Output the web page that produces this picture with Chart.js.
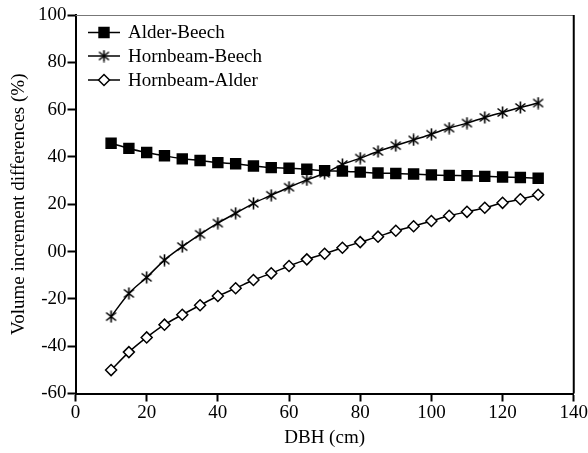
<!DOCTYPE html>
<html>
<head>
<meta charset="utf-8">
<script src="https://cdn.jsdelivr.net/npm/chart.js@4"></script>
<style>
  html, body { margin: 0; padding: 0; background: #fff; }
  #wrap { width: 588px; height: 453px; }
</style>
</head>
<body>
<div id="wrap"><canvas id="lineChart" width="588" height="453"></canvas></div>
<script>
// DBH classes (cm)
const DBH = [10, 15, 20, 25, 30, 35, 40, 45, 50, 55, 60, 65, 70, 75, 80, 85, 90, 95, 100, 105, 110, 115, 120, 125, 130]
// volume increment differences (%)
const ALDER_BEECH = [45.8, 43.6, 41.9, 40.5, 39.2, 38.5, 37.6, 37.1, 36.2, 35.5, 35.2, 34.8, 34.2, 34.0, 33.6, 33.2, 33.0, 32.8, 32.4, 32.2, 32.1, 31.8, 31.5, 31.3, 31.0]
const HORNBEAM_BEECH = [-27.5, -17.7, -10.9, -3.6, 2.1, 7.3, 12.0, 16.2, 20.4, 23.8, 27.2, 30.3, 33.1, 36.8, 39.5, 42.3, 44.8, 47.2, 49.6, 52.2, 54.3, 56.7, 58.8, 60.9, 62.8]
const HORNBEAM_ALDER = [-50.1, -42.5, -36.3, -30.9, -26.7, -22.7, -18.8, -15.5, -12.0, -9.2, -6.1, -3.3, -0.9, 1.6, 4.0, 6.3, 8.8, 10.7, 12.9, 15.1, 16.8, 18.5, 20.6, 22.1, 24.0]
const X_TICKS = [0, 20, 40, 60, 80, 100, 120, 140]
const Y_TICKS = [-60, -40, -20, 0, 20, 40, 60, 80, 100]

const FONT = "'Liberation Serif', 'Times New Roman', serif"

// six-armed asterisk marker (X plus vertical bar)
function makeAsterisk(){
    const c = document.createElement('canvas')
    c.width = 13
    c.height = 13
    const g = c.getContext('2d')
    g.strokeStyle = '#000'
    g.lineWidth = 1.6
    g.beginPath()
    g.moveTo(6.5, 0.5); g.lineTo(6.5, 12.5)
    g.moveTo(1.5, 2.5); g.lineTo(11.5, 10.5)
    g.moveTo(11.5, 2.5); g.lineTo(1.5, 10.5)
    g.stroke()
    return c
}
const ASTERISK = makeAsterisk()

function toPoints(vals){
    return vals.map((v, i) => ({x: DBH[i], y: v}))
}

function series(label, vals, style, radius, fill){
    return {
        label: label,
        data: toPoints(vals),
        borderColor: '#000',
        borderWidth: 1.5,
        backgroundColor: fill,
        pointStyle: style,
        pointRadius: radius,
        pointBorderWidth: 1.5,
        pointBorderColor: '#000',
        pointBackgroundColor: fill,
        tension: 0.4,
        cubicInterpolationMode: 'monotone',
        fill: false
    }
}

// legend drawn inside the plot, top left
const insideLegend = {
    id: 'insideLegend',
    afterDraw(chart){
        const ctx = chart.ctx
        const rows = [32.5, 56, 80]
        ctx.save()
        chart.data.datasets.forEach((ds, i) => {
            const y = rows[i]
            ctx.strokeStyle = '#000'
            ctx.lineWidth = 1.5
            ctx.beginPath()
            ctx.moveTo(88, y)
            ctx.lineTo(120, y)
            ctx.stroke()
            ctx.fillStyle = ds.pointBackgroundColor
            ctx.strokeStyle = '#000'
            Chart.helpers.drawPoint(ctx, {pointStyle: ds.pointStyle, radius: ds.pointRadius, rotation: 0, borderWidth: 1.5}, 104, y)
            ctx.fillStyle = '#000'
            ctx.font = '19px ' + FONT
            ctx.textBaseline = 'middle'
            ctx.textAlign = 'left'
            ctx.fillText(ds.label, 128, y + 1)
        })
        ctx.restore()
    }
}

// top and right frame lines
const frame = {
    id: 'frame',
    beforeDatasetsDraw(chart){
        const a = chart.chartArea
        const ctx = chart.ctx
        ctx.save()
        ctx.strokeStyle = '#777'
        ctx.lineWidth = 1
        ctx.beginPath()
        ctx.moveTo(a.left, a.top + 0.5)
        ctx.lineTo(a.right, a.top + 0.5)
        ctx.stroke()
        ctx.strokeStyle = '#000'
        ctx.lineWidth = 2
        ctx.beginPath()
        ctx.moveTo(a.right, a.top)
        ctx.lineTo(a.right, a.bottom)
        ctx.stroke()
        ctx.restore()
    }
}

var lineChart = new Chart(document.getElementById('lineChart'), {
    type: 'line',
    data: {
        datasets: [
            series('Alder-Beech', ALDER_BEECH, 'rect', 7, '#000'),
            series('Hornbeam-Beech', HORNBEAM_BEECH, ASTERISK, 6, '#000'),
            series('Hornbeam-Alder', HORNBEAM_ALDER, 'rectRot', 5.5, '#fff')
        ]
    },
    options: {
        responsive: false,
        animation: false,
        devicePixelRatio: 1,
        layout: { padding: { left: 0, right: 14, top: 15, bottom: 0 } },
        plugins: {
            legend: { display: false },
            tooltip: { enabled: false }
        },
        scales: {
            x: {
                type: 'linear',
                min: 0,
                max: 140,
                afterBuildTicks: s => { s.ticks = X_TICKS.map(v => ({value: v})) },
                afterFit: s => { s.height = 59.5 },
                grid: { drawOnChartArea: false, drawTicks: true, tickLength: 8, tickColor: '#000', tickWidth: 2 },
                border: { color: '#000', width: 2 },
                ticks: { color: '#000', font: { family: FONT, size: 19 }, padding: 0, maxRotation: 0 },
                title: { display: true, text: 'DBH (cm)', color: '#000', font: { family: FONT, size: 19 }, padding: { top: 0, bottom: 3.5 } }
            },
            y: {
                min: -60,
                max: 100,
                afterBuildTicks: s => { s.ticks = Y_TICKS.map(v => ({value: v})) },
                afterFit: s => { s.width = 75.5 },
                grid: { drawOnChartArea: false, drawTicks: true, tickLength: 8, tickColor: '#000', tickWidth: 2 },
                border: { color: '#000', width: 2 },
                ticks: {
                    color: '#000',
                    font: { family: FONT, size: 19 },
                    padding: 1,
                    callback: v => v === 0 ? '00' : v
                },
                title: { display: true, text: 'Volume increment differences (%)', color: '#000', font: { family: FONT, size: 19 }, padding: { top: 8, bottom: 0 } }
            }
        }
    },
    plugins: [frame, insideLegend]
});
</script>
</body>
</html>
